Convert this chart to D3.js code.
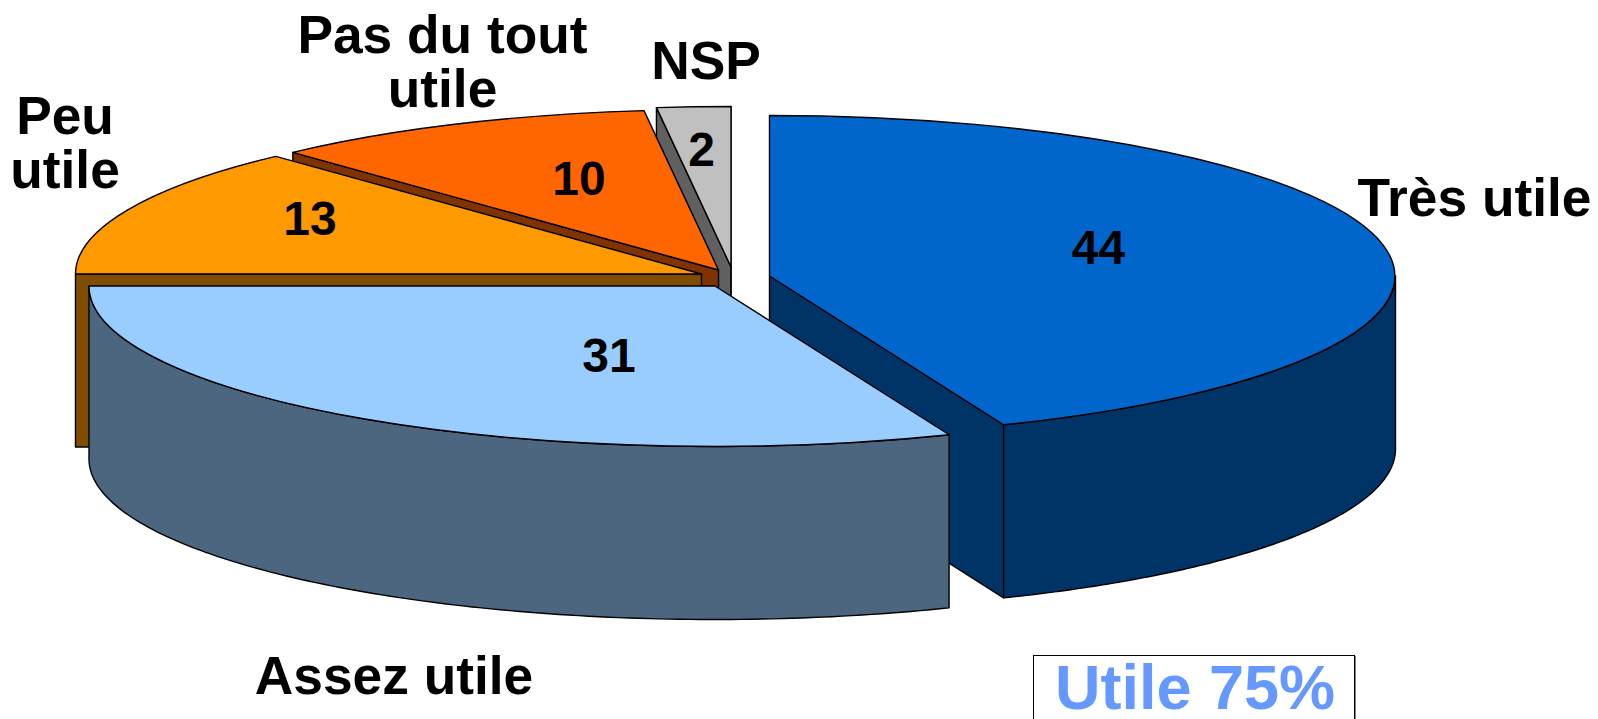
<!DOCTYPE html>
<html>
<head>
<meta charset="utf-8">
<script src="https://cdnjs.cloudflare.com/ajax/libs/d3/7.8.5/d3.min.js"></script>
<style>
html,body{margin:0;padding:0;background:#fff;overflow:hidden}
svg{display:block}
text{font-family:"Liberation Sans",Arial,sans-serif;font-weight:bold;fill:#000}
.top{vector-effect:non-scaling-stroke}
</style>
</head>
<body>
<svg id="chart" width="1598" height="719"></svg>
<script>
// ---- data ----
const categories = ["Très utile", "Assez utile", "Peu utile", "Pas du tout utile", "NSP"];
const values = [43.9, 31.1, 13.1, 10.0, 1.9];
const summaryLabel = "Utile 75%";

// ---- styles ----
const topColors  = ["#0066CC", "#99CCFF", "#FF9900", "#FF6600", "#C0C0C0"];
const sideColors = ["#003366", "#4D6680", "#7F4C00", "#7F3300", "#606060"];

// ---- layout ----
const rx = 626, ry = 160.5, depth = 173, edge = 1.4;
const centres = [[769.5, 276], [715, 286], [701.5, 274], [718.5, 270], [731, 267]];
const paintOrder = [4, 3, 2, 0, 1];
const valueAnchors = [[1098.5, 264], [609, 372], [310, 235], [579, 195], [701.5, 166]];
const nameLines = [["Très utile"], ["Assez utile"], ["Peu", "utile"], ["Pas du tout", "utile"], ["NSP"]];
const nameAnchors = [
  {x: 1357.5, y: 216, a: "start"},
  {x: 394, y: 694, a: "middle"},
  {x: 65, y: 134, a: "middle"},
  {x: 442.5, y: 53, a: "middle"},
  {x: 706, y: 79, a: "middle"}
];
const nameLeading = 54;

const svg = d3.select("#chart");
const arcs = d3.pie().sort(null).startAngle(0).endAngle(2 * Math.PI)(values);
const topArc = d3.arc().innerRadius(0).outerRadius(1);
const line = d3.line();
const HALF = Math.PI / 2;
const fmt = d3.format(".0f");

function pt(c, a, dy) {
  return [c[0] + rx * Math.sin(a), c[1] - ry * Math.cos(a) + dy];
}
function radialFace(c, a) {
  return line([c, pt(c, a, 0), pt(c, a, depth), [c[0], c[1] + depth]]) + "Z";
}
function wall(c, a0, a1) {
  const n = 120;
  const angles = d3.range(n + 1).map(i => a0 + (a1 - a0) * i / n);
  const upper = angles.map(a => pt(c, a, 0));
  const lower = angles.slice().reverse().map(a => pt(c, a, depth));
  return line(upper.concat(lower)) + "Z";
}

const body = svg.append("g");
paintOrder.forEach(i => {
  const d = arcs[i], c = centres[i];
  const g = body.append("g").attr("class", "slice");
  const side = dStr => g.append("path").attr("d", dStr)
    .attr("fill", sideColors[i]).attr("stroke", "#000").attr("stroke-width", edge)
    .attr("stroke-linejoin", "round");
  // only the cut faces that turn towards the viewer
  if (Math.sin(d.startAngle) < -1e-9) side(radialFace(c, d.startAngle));
  if (Math.sin(d.endAngle) > -1e-9) side(radialFace(c, d.endAngle));
  const a0 = Math.max(d.startAngle, HALF), a1 = Math.min(d.endAngle, 3 * HALF);
  if (a1 > a0) side(wall(c, a0, a1));
  g.append("path").attr("class", "top")
    .attr("transform", `translate(${c[0]},${c[1]}) scale(${rx},${ry})`)
    .attr("d", topArc(d))
    .attr("fill", topColors[i]).attr("stroke", "#000").attr("stroke-width", edge)
    .attr("stroke-linejoin", "round");
});

// value labels
svg.append("g").selectAll("text").data(values).join("text")
  .attr("x", (d, i) => valueAnchors[i][0])
  .attr("y", (d, i) => valueAnchors[i][1])
  .attr("text-anchor", "middle")
  .attr("font-size", 48)
  .text(d => fmt(d));

// category labels
const names = svg.append("g").selectAll("text").data(categories).join("text")
  .attr("aria-label", d => d)
  .attr("font-size", 53.3)
  .attr("text-anchor", (d, i) => nameAnchors[i].a);
names.each(function (d, i) {
  d3.select(this).selectAll("tspan").data(nameLines[i]).join("tspan")
    .attr("x", nameAnchors[i].x)
    .attr("y", (t, j) => nameAnchors[i].y + j * nameLeading)
    .text(t => t);
});

// summary box
svg.append("rect").attr("x", 1354.5).attr("y", 656).attr("width", 1.5).attr("height", 70).attr("fill", "#808080");
svg.append("rect").attr("x", 1033.5).attr("y", 655.5).attr("width", 321).attr("height", 80)
  .attr("fill", "#fff").attr("stroke", "#000").attr("stroke-width", 1);
svg.append("text").attr("x", 1195).attr("y", 709).attr("text-anchor", "middle")
  .attr("font-size", 63).style("fill", "#6699FF").text(summaryLabel);
</script>
</body>
</html>
